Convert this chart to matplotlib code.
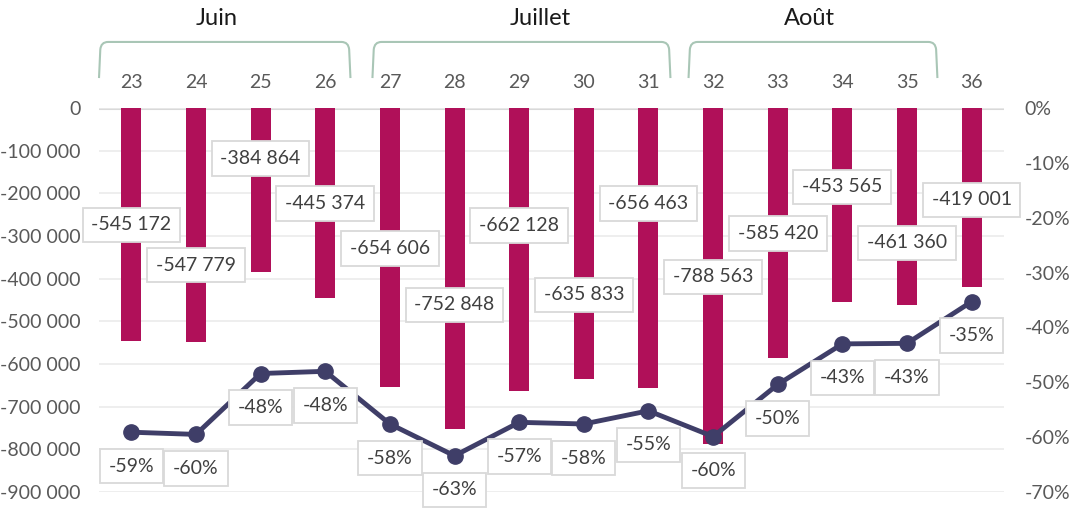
import numpy as np
import matplotlib
matplotlib.use("Agg")
import matplotlib.pyplot as plt
from matplotlib.path import Path
from matplotlib.patches import PathPatch
from matplotlib.ticker import FuncFormatter, MultipleLocator

plt.rcParams['font.family'] = ['Lato', 'DejaVu Sans']

weeks = ['23', '24', '25', '26', '27', '28', '29', '30', '31', '32', '33', '34', '35', '36']
values = [-545172, -547779, -384864, -445374, -654606, -752848, -662128,
          -635833, -656463, -788563, -585420, -453565, -461360, -419001]
pct = [-59.1, -59.5, -48.4, -48.0, -57.6, -63.4, -57.3,
       -57.6, -55.2, -59.9, -50.4, -43.0, -42.9, -35.3]
# where the value boxes sit (in value units)
label_y = [-273750, -368000, -118400, -223800, -329300, -461700, -275900,
           -437800, -223400, -395600, -294100, -184700, -316400, -215600]
months = ['Juin', 'Juillet', 'Août']
month_x = [1.32, 6.33, 10.49]
bracket_x = [(-0.5, 3.39), (3.73, 8.34), (8.62, 12.47)]

bar_col = '#B01059'
line_col = '#3F3E68'
txt_col = '#595959'
lab_col = '#404040'

fig = plt.figure(figsize=(10.81, 5.08), dpi=100)
ax = fig.add_axes([99/1081, 16/508, 905/1081, 384/508])
ax2 = ax.twinx()

x = np.arange(len(weeks))
ax.bar(x, values, width=0.31, color=bar_col, zorder=2)
ax.set_xlim(-0.5, len(weeks) - 0.5)
ax.set_ylim(-900000, 0)
ax.yaxis.set_major_locator(MultipleLocator(100000))
ax.yaxis.set_major_formatter(FuncFormatter(lambda v, p: f"{int(round(v)):,}".replace(",", " ")))
ax.grid(axis='y', color='#EBEBEB', linewidth=1.2, zorder=0)
ax.axhline(0, color='#D9D9D9', linewidth=2.2, zorder=1)
for s in ax.spines.values():
    s.set_visible(False)
for s in ax2.spines.values():
    s.set_visible(False)

ax.xaxis.tick_top()
ax.set_xticks(x)
ax.set_xticklabels(weeks)
ax.tick_params(axis='x', length=0, pad=12, labelsize=14, labelcolor=txt_col)
ax.tick_params(axis='y', length=0, pad=13, labelsize=14, labelcolor=txt_col)

ax2.plot(x, pct, color=line_col, linewidth=3.5, marker='o', markersize=11, zorder=3)
ax2.set_ylim(-70, 0)
ax2.yaxis.set_major_locator(MultipleLocator(10))
ax2.yaxis.set_major_formatter(FuncFormatter(lambda v, p: f"{int(round(v))}%"))
ax2.tick_params(axis='y', length=0, pad=15, labelsize=14, labelcolor=txt_col)

box = dict(boxstyle='square,pad=0.45', fc='white', ec='#D9D9D9', lw=1.3)

for xi, v, ly in zip(x, values, label_y):
    ax2.annotate(f"{v:,}".replace(",", " "), xy=(xi, ly), xycoords=ax.transData,
                 ha='center', va='center', fontsize=14, color=lab_col, bbox=box, zorder=5)

for xi, p in zip(x, pct):
    ax2.annotate(f"{int(round(p))}%", xy=(xi, p), xytext=(0, -24.5), textcoords='offset points',
                 ha='center', va='center', fontsize=14, color=lab_col, bbox=box, zorder=5)

# month brackets above the week labels
tr = ax.get_xaxis_transform()
yb, yt = 1.078, 1.172
for (x0, x1), m, mx in zip(bracket_x, months, month_x):
    verts = [(x0, yb), (x0 + 0.02, yt - 0.02), (x0 + 0.03, yt), (x0 + 0.14, yt),
             (x1 - 0.14, yt), (x1 - 0.03, yt), (x1 - 0.02, yt - 0.02), (x1, yb)]
    codes = [Path.MOVETO, Path.LINETO, Path.CURVE3, Path.CURVE3,
             Path.LINETO, Path.CURVE3, Path.CURVE3, Path.LINETO]
    ax.add_patch(PathPatch(Path(verts, codes), transform=tr, fill=False,
                           ec='#A9C6B6', lw=1.5, clip_on=False))
    ax.text(mx, 1.232, m, transform=tr, ha='center', va='center', fontsize=17, color='#1a1a1a')

fig.savefig('out.png', dpi=100)
